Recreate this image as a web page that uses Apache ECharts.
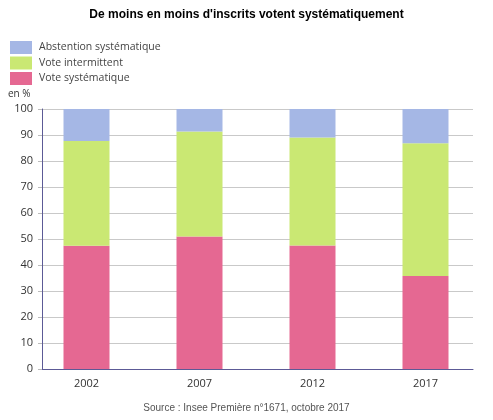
<!DOCTYPE html>
<html>
<head>
<meta charset="utf-8">
<script src="https://cdn.jsdelivr.net/npm/echarts@6/dist/echarts.min.js"></script>
<style>
  html, body { margin: 0; padding: 0; background: #fff; }
  #chart { width: 493px; height: 420px; }
</style>
</head>
<body>
<div id="chart"></div>
<script>
const years = ['2002', '2007', '2012', '2017'];
const voteSystematique = [47.4, 51.0, 47.5, 35.8];
const voteIntermittent = [40.3, 40.3, 41.5, 51.0];
const abstentionSystematique = [12.3, 8.7, 11.0, 13.2];

const colors = {
  abst: '#a5b7e5',
  inter: '#cae873',
  syst: '#e56892',
};
const axisColor = '#5c5a96';

const chart = echarts.init(document.getElementById('chart'));

// grid 0 carries the frame (axis lines, y labels, gridlines),
// grid 1 is a bit wider and carries the bars + year labels
chart.setOption({
  animation: false,
  title: [
    {
      text: "De moins en moins d'inscrits votent systématiquement",
      left: 'center',
      top: 4,
      textStyle: { fontFamily: 'Liberation Sans', fontSize: 12, fontWeight: 'bold', color: '#000' },
    },
    {
      text: 'Source : Insee Première n°1671, octobre 2017',
      left: 'center',
      top: 398,
      textStyle: { fontFamily: 'Liberation Sans', fontSize: 10, fontWeight: 'normal', color: '#555' },
    },
  ],
  legend: {
    orient: 'vertical',
    left: 5,
    top: 36,
    itemWidth: 22,
    itemHeight: 13,
    itemGap: 2.5,
    icon: 'rect',
    selectedMode: false,
    data: ['Abstention systématique', 'Vote intermittent', 'Vote systématique'],
    textStyle: { fontFamily: 'Open Sans', fontSize: 10.5, color: '#444', padding: [0, 0, 0, 2] },
  },
  graphic: [
    {
      type: 'text',
      left: 8,
      top: 89,
      style: { text: 'en %', fontFamily: 'Open Sans', fontSize: 10, fill: '#333' },
    },
  ],
  grid: [
    { left: 42, right: 20, top: 109, bottom: 51, containLabel: false },
    { left: 30, right: 11, top: 109, bottom: 51, containLabel: false },
  ],
  xAxis: [
    {
      gridIndex: 0,
      type: 'value',
      min: 0,
      max: 1,
      axisLine: { show: true, onZero: false, lineStyle: { color: axisColor } },
      axisTick: { show: false },
      axisLabel: { show: false },
      splitLine: { show: false },
    },
    {
      gridIndex: 1,
      type: 'category',
      data: years,
      axisLine: { show: false },
      axisTick: { show: false },
      axisLabel: { margin: 9, fontFamily: 'Open Sans', fontSize: 11, color: '#333' },
    },
  ],
  yAxis: [
    {
      gridIndex: 0,
      type: 'value',
      min: 0,
      max: 100,
      interval: 10,
      axisLine: { show: true, onZero: false, lineStyle: { color: axisColor } },
      axisTick: { show: true, length: 4, lineStyle: { color: '#bbb' } },
      axisLabel: { margin: 9, fontFamily: 'Open Sans', fontSize: 11, color: '#333' },
      splitLine: { lineStyle: { color: '#c9c9c9' } },
    },
    {
      gridIndex: 1,
      type: 'value',
      min: 0,
      max: 100,
      show: false,
    },
  ],
  series: [
    {
      name: 'Vote systématique',
      type: 'bar',
      stack: 'total',
      xAxisIndex: 1,
      yAxisIndex: 1,
      barWidth: 46,
      itemStyle: { color: colors.syst },
      data: voteSystematique,
    },
    {
      name: 'Vote intermittent',
      type: 'bar',
      stack: 'total',
      xAxisIndex: 1,
      yAxisIndex: 1,
      barWidth: 46,
      itemStyle: { color: colors.inter },
      data: voteIntermittent,
    },
    {
      name: 'Abstention systématique',
      type: 'bar',
      stack: 'total',
      xAxisIndex: 1,
      yAxisIndex: 1,
      barWidth: 46,
      itemStyle: { color: colors.abst },
      data: abstentionSystematique,
    },
  ],
});
</script>
</body>
</html>
